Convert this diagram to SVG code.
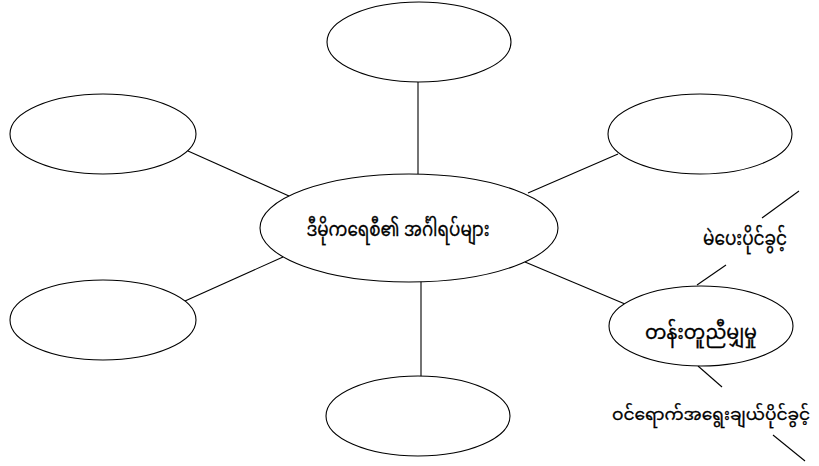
<svg xmlns="http://www.w3.org/2000/svg" width="819" height="466" viewBox="0 0 819 466">
<style>
.n{fill:#fff;stroke:#000;stroke-width:1.1}
.c line{stroke:#000;stroke-width:1.1}
text{font-family:"Noto Sans Myanmar","Padauk","Myanmar Text","Noto Sans","DejaVu Sans",sans-serif;font-size:19px;fill:#000;stroke:#000;stroke-width:0.3;text-anchor:middle}
</style>
<rect width="819" height="466" fill="#fff"/>
<g id="connectors" class="c">
<line x1="418" y1="82" x2="418" y2="174"/>
<line x1="188" y1="151" x2="289" y2="196"/>
<line x1="618" y1="154" x2="528" y2="193"/>
<line x1="185" y1="301" x2="283" y2="257"/>
<line x1="421" y1="281" x2="421" y2="377"/>
<line x1="525" y1="262" x2="625" y2="304"/>
<line x1="697" y1="285" x2="726" y2="265"/>
<line x1="762" y1="218" x2="799" y2="191"/>
<line x1="698" y1="366" x2="722" y2="387"/>
<line x1="773" y1="435" x2="805" y2="461"/>
</g>
<g id="node-top"><ellipse class="n" cx="419" cy="42" rx="92" ry="40"/></g>
<g id="node-top-left"><ellipse class="n" cx="103" cy="134" rx="93" ry="40"/></g>
<g id="node-top-right"><ellipse class="n" cx="700" cy="134" rx="92" ry="40"/></g>
<g id="node-bottom-left"><ellipse class="n" cx="103" cy="320" rx="93" ry="40"/></g>
<g id="node-bottom"><ellipse class="n" cx="418" cy="416" rx="92" ry="40"/></g>
<g id="node-center"><ellipse class="n" cx="409" cy="228" rx="149" ry="54"/><text x="398" y="236" textLength="183" lengthAdjust="spacingAndGlyphs">ဒီမိုကရေစီ၏ အင်္ဂါရပ်များ</text></g>
<g id="node-equality"><ellipse class="n" cx="701" cy="326" rx="92" ry="40"/><text x="701" y="339" textLength="112" lengthAdjust="spacingAndGlyphs">တန်းတူညီမျှမှု</text></g>
<g id="label-vote"><text x="745" y="245" textLength="84" lengthAdjust="spacingAndGlyphs">မဲပေးပိုင်ခွင့်</text></g>
<g id="label-candidate"><text x="711" y="420" style="font-size:16.5px" textLength="198" lengthAdjust="spacingAndGlyphs">ဝင်ရောက်အရွေးချယ်ပိုင်ခွင့်</text></g>
</svg>
